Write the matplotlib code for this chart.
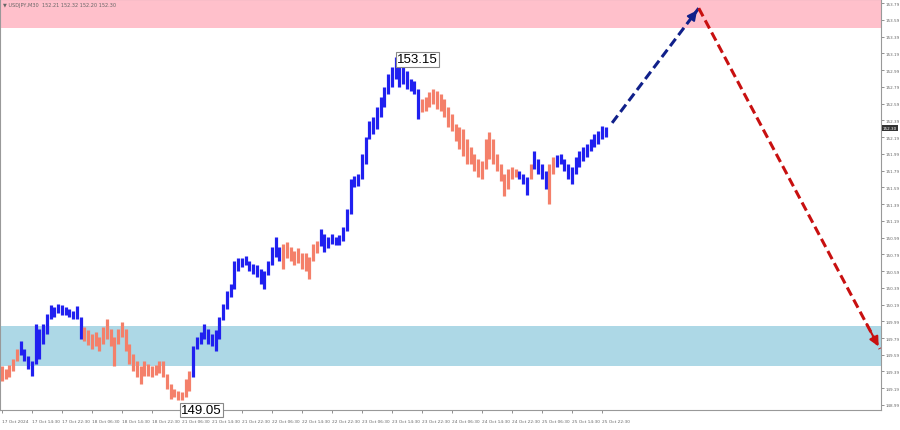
import numpy as np
import matplotlib.pyplot as plt

# hourly bars (two M30 bars each)
high = [149.45, 149.42, 149.47, 149.54, 149.66, 149.76, 149.66, 149.57, 149.52, 149.96,
        149.90, 149.96, 150.08, 150.19, 150.16, 150.20, 150.19, 150.16, 150.14, 150.11,
        150.17, 150.04, 149.92, 149.88, 149.84, 149.86, 149.80, 149.92, 150.02, 149.90,
        149.80, 149.90, 149.98, 149.90, 149.72, 149.60, 149.52, 149.45, 149.52, 149.48,
        149.46, 149.47, 149.51, 149.51, 149.36, 149.24, 149.18, 149.16, 149.15, 149.30,
        149.40, 149.69, 149.80, 149.86, 149.96, 149.90, 149.84, 149.88, 150.04, 150.20,
        150.35, 150.44, 150.71, 150.74, 150.74, 150.77, 150.71, 150.68, 150.66, 150.62,
        150.59, 150.71, 150.88, 151.00, 150.88, 150.91, 150.94, 150.88, 150.83, 150.86,
        150.80, 150.80, 150.76, 150.91, 150.95, 151.09, 151.03, 151.00, 151.03, 151.00,
        151.02, 151.12, 151.33, 151.69, 151.73, 151.75, 151.99, 152.19, 152.38, 152.43,
        152.55, 152.67, 152.79, 152.94, 153.03, 153.15, 153.09, 153.03, 152.98, 152.88,
        152.86, 152.77, 152.65, 152.67, 152.73, 152.77, 152.74, 152.71, 152.65, 152.55,
        152.47, 152.35, 152.31, 152.29, 152.17, 152.07, 151.99, 151.93, 151.91, 152.17,
        152.25, 152.17, 151.99, 151.87, 151.75, 151.81, 151.83, 151.81, 151.79, 151.75,
        151.71, 151.87, 152.03, 151.93, 151.87, 151.79, 151.87, 151.95, 151.98, 151.99,
        151.93, 151.87, 151.83, 151.95, 152.03, 152.07, 152.11, 152.17, 152.23, 152.26,
        152.32, 152.31]
low = [149.28, 149.30, 149.33, 149.40, 149.52, 149.59, 149.52, 149.42, 149.34, 149.48,
       149.54, 149.72, 149.84, 150.02, 150.04, 150.09, 150.07, 150.07, 150.04, 150.02,
       150.02, 149.78, 149.76, 149.71, 149.66, 149.69, 149.64, 149.72, 149.78, 149.69,
       149.46, 149.72, 149.80, 149.64, 149.48, 149.40, 149.33, 149.24, 149.34, 149.34,
       149.33, 149.35, 149.37, 149.33, 149.18, 149.06, 149.09, 149.05, 149.05, 149.08,
       149.16, 149.33, 149.66, 149.72, 149.78, 149.72, 149.69, 149.63, 149.78, 150.00,
       150.14, 150.28, 150.38, 150.59, 150.64, 150.66, 150.59, 150.56, 150.52, 150.44,
       150.38, 150.54, 150.66, 150.76, 150.71, 150.62, 150.74, 150.71, 150.66, 150.69,
       150.62, 150.59, 150.50, 150.71, 150.80, 150.89, 150.82, 150.86, 150.91, 150.90,
       150.90, 150.95, 151.07, 151.27, 151.60, 151.61, 151.69, 151.87, 152.17, 152.23,
       152.29, 152.43, 152.55, 152.71, 152.79, 152.88, 152.79, 152.83, 152.77, 152.74,
       152.71, 152.41, 152.49, 152.50, 152.55, 152.59, 152.53, 152.50, 152.43, 152.31,
       152.26, 152.14, 152.05, 151.97, 151.87, 151.87, 151.79, 151.71, 151.69, 151.81,
       151.93, 151.87, 151.79, 151.67, 151.49, 151.57, 151.69, 151.71, 151.69, 151.63,
       151.50, 151.69, 151.81, 151.75, 151.69, 151.57, 151.39, 151.75, 151.83, 151.87,
       151.79, 151.69, 151.63, 151.75, 151.83, 151.91, 151.95, 152.03, 152.07, 152.11,
       152.17, 152.19]
# b = up wave (blue), o = down wave (salmon)
wave = "o"*5 + "b"*17 + "o"*29 + "b"*24 + "o"*10 + "b"*27 + "o"*26 + "b"*3 + "o" + "b"*4 + "o"*2 + "b"*14

last_price = 152.30
peak_label, low_label = "153.15", "149.05"

# forecast path (hour index, price)
fc_x = [162.7, 185.8, 234.1]
fc_y = [152.36, 153.73, 149.66]

resist_zone = (153.49, 154.50)
support_zone = (149.46, 149.93)

yticks = [148.99, 149.19, 149.39, 149.59, 149.79, 149.99, 150.19, 150.39, 150.59,
          150.79, 150.99, 151.19, 151.39, 151.59, 151.79, 151.99, 152.19, 152.39,
          152.59, 152.79, 152.99, 153.19, 153.39, 153.59, 153.79]
xlabels = ["17 Oct 2024", "17 Oct 14:30", "17 Oct 22:30", "18 Oct 06:30", "18 Oct 14:30",
           "18 Oct 22:30", "21 Oct 06:30", "21 Oct 14:30", "21 Oct 22:30", "22 Oct 06:30",
           "22 Oct 14:30", "22 Oct 22:30", "23 Oct 06:30", "23 Oct 14:30", "23 Oct 22:30",
           "24 Oct 06:30", "24 Oct 14:30", "24 Oct 22:30", "25 Oct 06:30", "25 Oct 14:30",
           "25 Oct 22:30"]

BLUE = '#2020f0'
SALMON = '#f4806a'

fig = plt.figure(figsize=(9, 4.31), dpi=100)
ax = fig.add_axes([0.0, 20/431, 881/900, 411/431])

ax.axhspan(*resist_zone, color='#ffc0cb', lw=0, zorder=0)
ax.axhspan(*support_zone, color='#add8e6', lw=0, zorder=0)

x = np.arange(len(high))
cols = [BLUE if c == 'b' else SALMON for c in wave]
ax.vlines(x, low, high, colors=cols, lw=2.3, zorder=2)

# forecast arrows
ax.plot(fc_x[:2], fc_y[:2], ls=(0, (3, 1.5)), color='#10208a', lw=2.2, zorder=3)
ax.plot(fc_x[1:], fc_y[1:], ls=(0, (3, 1.5)), color='#c81010', lw=2.2, zorder=3)
for (x0, y0, x1, y1, c) in [(fc_x[0], fc_y[0], fc_x[1], fc_y[1], '#10208a'),
                            (fc_x[1], fc_y[1], fc_x[2], fc_y[2], '#c81010')]:
    ax.annotate('', xy=(x1, y1), xytext=(x1 - (x1 - x0) * 0.08, y1 - (y1 - y0) * 0.08),
                arrowprops=dict(arrowstyle='-|>', color=c, lw=1.5, mutation_scale=14),
                zorder=4)

# extreme labels
imax = int(np.argmax(high))
imin = int(np.argmin(low))
box = dict(boxstyle='square,pad=0.1', fc='white', ec='#888888', lw=0.8)
ax.text(imax + 0.3, high[imax] - 0.03, peak_label, fontsize=9.5, va='center', ha='left',
        bbox=box, zorder=5, family='Liberation Sans')
ax.text(imin + 0.8, low[imin] - 0.12, low_label, fontsize=9.5, va='center', ha='left',
        bbox=box, zorder=5, clip_on=False, family='Liberation Sans')

ax.set_xlim(-0.53, 234.4)
ax.set_ylim(148.93, 153.84)

ax.yaxis.tick_right()
ax.set_yticks(yticks)
ax.set_yticklabels([f"{v:.2f}" for v in yticks], fontsize=3.0, color='#555555')
ax.tick_params(axis='y', length=2, width=0.5, pad=1.5, colors='#666666')
ax.set_xticks(range(0, 161, 8))
ax.set_xticklabels(xlabels, fontsize=3.1, color='#555555')
for lab in ax.get_xticklabels():
    lab.set_ha('left')
ax.tick_params(axis='x', length=2, width=0.5, pad=4.5, colors='#666666')
for s in ax.spines.values():
    s.set_color('#999999')
    s.set_linewidth(0.8)

# current price marker
ax.text(1.002, last_price, f"{last_price:.2f}", transform=ax.get_yaxis_transform(),
        fontsize=3.0, color='white', va='center', ha='left',
        bbox=dict(boxstyle='square,pad=0.2', fc='#333333', ec='none'), clip_on=False)

ax.text(0.003, 0.992, "\u25bc USDJPY,M30  152.21 152.32 152.20 152.30", transform=ax.transAxes,
        fontsize=3.6, color='#666666', va='top', ha='left')

fig.savefig('out.png', dpi=100)
